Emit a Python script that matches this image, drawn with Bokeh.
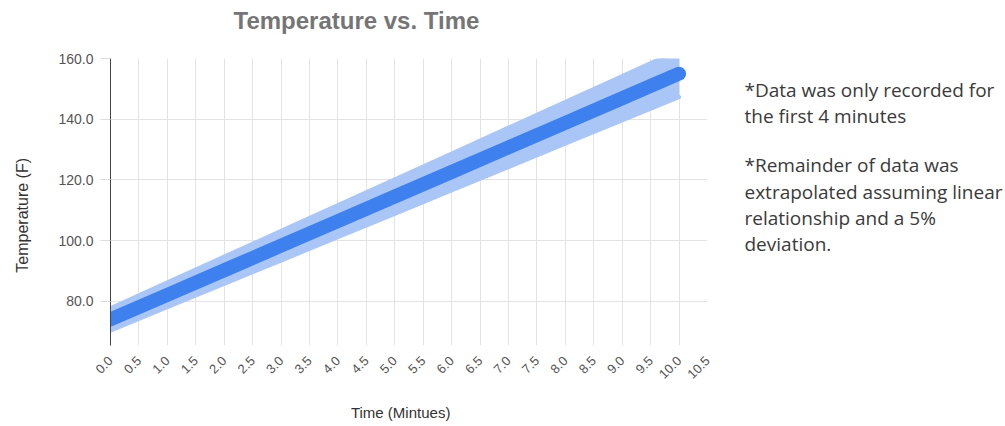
from bokeh.plotting import figure
from bokeh.layouts import row
from bokeh.models import FixedTicker, PrintfTickFormatter, Range1d, Title
from bokeh.core.properties import value
from bokeh.embed import file_html
from bokeh.resources import INLINE

# Time in minutes and measured / extrapolated temperature (F)
time_min = [0, 1, 2, 3, 4, 5, 6, 7, 8, 9, 10]
temp_f = [74.0, 82.1, 90.2, 98.3, 106.4, 114.5, 122.6, 130.7, 138.8, 146.9, 155.0]
# 5% deviation band
temp_low = [70.3, 78.0, 85.7, 93.4, 101.1, 108.8, 116.5, 124.2, 131.9, 139.6, 147.3]
temp_high = [77.7, 86.2, 94.7, 103.2, 111.7, 120.2, 128.7, 137.2, 145.7, 154.2, 162.8]

x_ticks = [0.0, 0.5, 1.0, 1.5, 2.0, 2.5, 3.0, 3.5, 4.0, 4.5, 5.0, 5.5, 6.0, 6.5,
           7.0, 7.5, 8.0, 8.5, 9.0, 9.5, 10.0, 10.5]
y_ticks = [80, 100, 120, 140, 160]

notes = [
    "*Data was only recorded for",
    "the first 4 minutes",
    "*Remainder of data was",
    "extrapolated assuming linear",
    "relationship and a 5%",
    "deviation.",
]

MAIN = "#3d80ee"
BAND = "#a9c6f6"
GRID = "#e3e3e3"
FONT = "Liberation Sans"
NBSP = "\u00a0"

p = figure(width=722, height=426, output_backend="svg", toolbar_location=None,
           title_location=None,
           x_range=Range1d(0, 10.5), y_range=Range1d(65.4, 160))
p.min_border_left = 110
p.min_border_right = 15
p.min_border_top = 58
p.min_border_bottom = 81
p.outline_line_color = None
p.background_fill_color = "white"
p.border_fill_color = "white"

# empty gap between the frame and the heading
p.add_layout(Title(text=NBSP, text_font_size="1px", standoff=22), "above")
p.add_layout(Title(text="Temperature vs. Time", text_font=FONT,
                   text_font_style="bold", text_font_size="24px",
                   text_color="#757575", align="left", offset=123,
                   standoff=0), "above")

# deviation band
p.varea(x=time_min, y1=temp_low, y2=temp_high, fill_color=BAND, fill_alpha=1.0)
p.line(time_min, temp_low, line_color=BAND, line_width=4, line_cap="round")
p.line(time_min, temp_high, line_color=BAND, line_width=4, line_cap="round")
# main trend
p.line(time_min, temp_f, line_color=MAIN, line_width=14, line_cap="round",
       line_join="round")

# axes
p.xaxis.ticker = FixedTicker(ticks=x_ticks)
p.xaxis.formatter = PrintfTickFormatter(format="%.1f")
p.xaxis.major_label_orientation = 0.785
p.xaxis.axis_line_color = None
p.xaxis.major_tick_line_color = None
p.xaxis.minor_tick_line_color = None
p.xaxis.major_label_text_font = FONT
p.xaxis.major_label_text_font_size = "13px"
p.xaxis.major_label_text_color = "#555555"
p.xaxis.major_label_standoff = 7
p.xaxis.axis_label = "Time (Mintues)" + NBSP * 4
p.xaxis.axis_label_text_font = FONT
p.xaxis.axis_label_text_font_style = "normal"
p.xaxis.axis_label_text_font_size = "15px"
p.xaxis.axis_label_text_color = "#333333"
p.xaxis.axis_label_standoff = 18

p.yaxis.ticker = FixedTicker(ticks=y_ticks)
p.yaxis.formatter = PrintfTickFormatter(format="%.1f")
p.yaxis.axis_line_color = "#444444"
p.yaxis.major_tick_line_color = "#dddddd"
p.yaxis.major_tick_out = 10
p.yaxis.major_tick_in = 0
p.yaxis.minor_tick_line_color = None
p.yaxis.major_label_text_font = FONT
p.yaxis.major_label_text_font_size = "14px"
p.yaxis.major_label_text_color = "#555555"
p.yaxis.major_label_standoff = 7
p.yaxis.axis_label = "Temperature (F)" + NBSP * 6
p.yaxis.axis_label_text_font = FONT
p.yaxis.axis_label_text_font_style = "normal"
p.yaxis.axis_label_text_font_size = "16px"
p.yaxis.axis_label_text_color = "#333333"
p.yaxis.axis_label_standoff = 24

p.xgrid.ticker = FixedTicker(ticks=x_ticks)
p.ygrid.ticker = FixedTicker(ticks=y_ticks)
p.xgrid.grid_line_color = GRID
p.ygrid.grid_line_color = GRID

# side panel with the notes; its ranges follow page pixels (y downward)
side = figure(width=283, height=426, output_backend="svg", toolbar_location=None,
              x_range=Range1d(722, 1005), y_range=Range1d(345, 58))
side.min_border = 0
side.axis.visible = False
side.grid.visible = False
side.outline_line_color = None
side.background_fill_color = "white"
side.border_fill_color = "white"

note_x = [744] * len(notes)
note_y = [89, 115, 164, 191, 217, 243]
side.text(x=note_x, y=note_y, text=notes, text_font=value("Open Sans"),
          text_font_size="19px", text_color="#3a3a3a", text_align="left",
          text_baseline="middle")

layout = row(p, side, spacing=0)
open("out.html", "w").write(file_html(layout, INLINE))
